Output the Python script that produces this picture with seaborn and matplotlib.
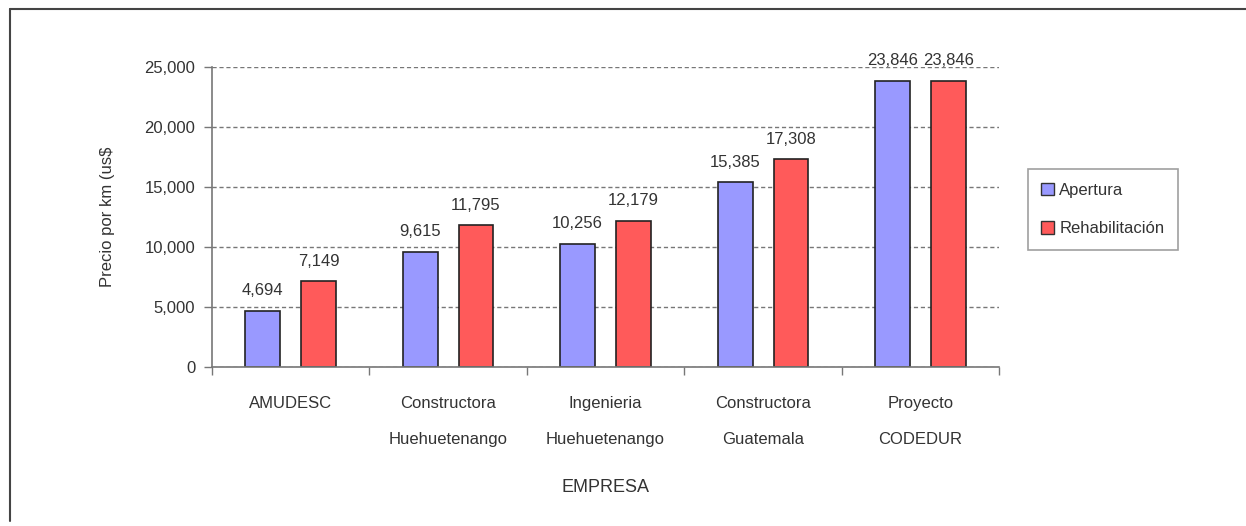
import matplotlib
matplotlib.use('Agg')
import matplotlib.pyplot as plt
import pandas as pd
import seaborn as sns
from matplotlib.lines import Line2D
from matplotlib.ticker import FuncFormatter, FixedLocator

# Data
empresas = ['AMUDESC', 'Constructora\nHuehuetenango', 'Ingenieria\nHuehuetenango',
            'Constructora\nGuatemala', 'Proyecto\nCODEDUR']
apertura = [4694, 9615, 10256, 15385, 23846]
rehabilitacion = [7149, 11795, 12179, 17308, 23846]
series = ['Apertura', 'Rehabilitación']

df = pd.DataFrame({
    'empresa': empresas * 2,
    'tipo': [series[0]] * 5 + [series[1]] * 5,
    'precio': apertura + rehabilitacion,
})

sns.set_style('white')
plt.rcParams['font.family'] = ['Liberation Sans Narrow', 'Liberation Sans', 'DejaVu Sans']
txt = '#333333'

fig = plt.figure(figsize=(12.46, 5.26), dpi=100)
ax = fig.add_axes([0.170, 0.302, 0.632, 0.571])

sns.barplot(data=df, x='empresa', y='precio', hue='tipo', order=empresas,
            hue_order=series, palette=['#9999FF', '#FF5A5A'], width=0.71, gap=0.376,
            edgecolor='#222222', linewidth=1.2, saturation=1, ax=ax, legend=False)

ax.set_ylim(0, 25000)
ax.set_xlim(-0.5, 4.5)
ax.set_yticks(range(0, 25001, 5000))
ax.yaxis.set_major_formatter(FuncFormatter(lambda v, p: f'{int(v):,}'))
ax.yaxis.grid(True, color='#777777', linestyle=(0, (3, 2)), linewidth=1)
ax.set_axisbelow(True)
for s in ['top', 'right']:
    ax.spines[s].set_visible(False)
for s in ['left', 'bottom']:
    ax.spines[s].set_color('#777777')
    ax.spines[s].set_linewidth(1.2)

ax.tick_params(axis='y', which='major', direction='out', length=6, width=1,
               color='#777777', labelsize=12, labelcolor=txt, pad=6, left=True)
ax.tick_params(axis='x', which='major', length=0, labelsize=12, labelcolor=txt, pad=21)
ax.xaxis.set_minor_locator(FixedLocator([-0.5, 0.5, 1.5, 2.5, 3.5, 4.5]))
ax.tick_params(axis='x', which='minor', direction='out', length=6, width=1,
               color='#777777', bottom=True)
for lab in ax.get_xticklabels():
    lab.set_linespacing(2.75)
    lab.set_verticalalignment('top')

ax.set_xlabel('EMPRESA', fontsize=13, color=txt, labelpad=23)
ax.set_ylabel('Precio por km (us$', fontsize=12, color=txt, labelpad=21)

for cont in ax.containers:
    ax.bar_label(cont, labels=[f'{int(v):,}' for v in cont.datavalues],
                 padding=9, fontsize=12, color=txt, clip_on=False)

handles = [plt.Rectangle((0, 0), 1, 1, facecolor=c, edgecolor='#333333', linewidth=1)
           for c in ['#9999FF', '#FF5A5A']]
leg = fig.legend(handles, series, loc='upper left', bbox_to_anchor=(0.818, 0.694),
                 frameon=True, fancybox=False, edgecolor='#888888', fontsize=12,
                 handlelength=0.8, handleheight=0.8, handletextpad=0.3,
                 labelspacing=1.4, borderpad=0.8, labelcolor=txt)
leg.get_frame().set_linewidth(1.2)

# outer frame (top and left edges visible)
fig.add_artist(Line2D([0.008, 1.0], [0.983, 0.983], transform=fig.transFigure,
                      color='#444444', linewidth=1.5))
fig.add_artist(Line2D([0.008, 0.008], [0.01, 0.983], transform=fig.transFigure,
                      color='#444444', linewidth=1.5))

fig.savefig('out.png', dpi=100)
